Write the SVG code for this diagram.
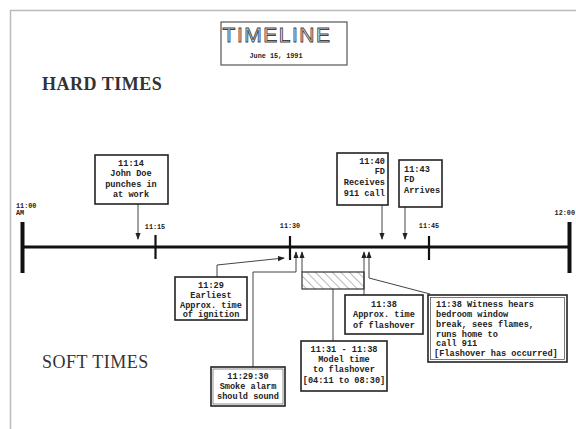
<svg xmlns="http://www.w3.org/2000/svg" width="576" height="429" viewBox="0 0 576 429">
<style>
.t{font-family:"Liberation Mono",monospace;font-size:8.6px;font-weight:bold;fill:#222}
.s{font-family:"Liberation Mono",monospace;font-size:6.8px;font-weight:bold;fill:#222}
.h{font-family:"Liberation Serif",serif;font-size:18px;fill:#333;letter-spacing:0.5px}
.box{fill:#fff;stroke:#222;stroke-width:1.6}
.ln{stroke:#444;stroke-width:1;fill:none}
.m{text-anchor:middle}
</style>
<defs>
<marker id="ar" viewBox="0 0 8 8" refX="7" refY="4" markerWidth="7" markerHeight="7" markerUnits="userSpaceOnUse" orient="auto">
<path d="M0,1 L8,4 L0,7 Z" fill="#222"/>
</marker>
<pattern id="hatch" width="6" height="6" patternUnits="userSpaceOnUse" patternTransform="rotate(-45)">
<line x1="0" y1="0" x2="0" y2="6" stroke="#777" stroke-width="1"/>
</pattern>
</defs>
<rect x="0" y="0" width="576" height="429" fill="#fff"/>
<path d="M10.5,429 V10.5 H576" fill="none" stroke="#bbb" stroke-width="1.5"/>

<g id="title">
<rect x="221" y="22" width="126" height="43" fill="#fff" stroke="#555" stroke-width="1.2"/>
<text x="277" y="42" text-anchor="middle" font-family="Liberation Sans,sans-serif" font-size="21" letter-spacing="1.5" fill="#f4f4f4" stroke="#444" stroke-width="0.9">TIMELINE</text>
<text x="276" y="58" class="s m" font-size="7.5">June 15, 1991</text>
</g>

<g id="hard-times"><text x="42" y="90" class="h" font-weight="bold">HARD  TIMES</text></g>
<g id="soft-times"><text x="42" y="368" class="h">SOFT  TIMES</text></g>

<g id="timeline">
<line x1="22" y1="247" x2="570" y2="247" stroke="#111" stroke-width="3"/>
<line x1="22.5" y1="222" x2="22.5" y2="273" stroke="#111" stroke-width="4"/>
<line x1="569.5" y1="222" x2="569.5" y2="273" stroke="#111" stroke-width="4"/>
<line x1="155.5" y1="235" x2="155.5" y2="259" stroke="#111" stroke-width="2.2"/>
<line x1="290" y1="236" x2="290" y2="260" stroke="#111" stroke-width="2.2"/>
<line x1="429" y1="236" x2="429" y2="260" stroke="#111" stroke-width="2.2"/>
<text x="16" y="208" class="s">11:00</text>
<text x="16" y="215" class="s">AM</text>
<text x="155" y="229" class="s m">11:15</text>
<text x="290" y="228" class="s m">11:30</text>
<text x="429" y="228" class="s m">11:45</text>
<text x="575" y="215" class="s" text-anchor="end">12:00</text>
</g>

<g id="connectors">
<line class="ln" x1="138" y1="204" x2="138" y2="239" marker-end="url(#ar)"/>
<line class="ln" x1="382" y1="205" x2="382" y2="239" marker-end="url(#ar)"/>
<line class="ln" x1="405" y1="207" x2="405" y2="239" marker-end="url(#ar)"/>
<polyline class="ln" points="217,277 217,265 284,258" marker-end="url(#ar)"/>
<polyline class="ln" points="253,367 253,272 296,272 296,252" marker-end="url(#ar)"/>
<line class="ln" x1="302" y1="272" x2="302" y2="252" marker-end="url(#ar)"/>
<line class="ln" x1="364" y1="295" x2="364" y2="252" marker-end="url(#ar)"/>
<polyline class="ln" points="430,294 369,278 369,252" marker-end="url(#ar)"/>
<line class="ln" x1="333" y1="289" x2="333" y2="341"/>
</g>

<g id="model-interval">
<rect x="302" y="272" width="62" height="17" fill="url(#hatch)" stroke="#333" stroke-width="1.2"/>
</g>

<g id="john-doe">
<rect class="box" x="95" y="155" width="73" height="49"/>
<text class="t m" x="131" y="166">11:14</text>
<text class="t m" x="131" y="176">John Doe</text>
<text class="t m" x="131" y="187">punches in</text>
<text class="t m" x="131" y="197">at work</text>
</g>

<g id="fd-receives">
<rect class="box" x="337" y="153" width="51" height="52"/>
<text class="t" x="385" y="164" text-anchor="end">11:40</text>
<text class="t" x="385" y="174" text-anchor="end">FD</text>
<text class="t" x="385" y="185" text-anchor="end">Receives</text>
<text class="t" x="385" y="196" text-anchor="end">911 call</text>
</g>

<g id="fd-arrives">
<rect class="box" x="399" y="160" width="43" height="47" stroke-width="2.2"/>
<text class="t" x="404" y="172">11:43</text>
<text class="t" x="404" y="182">FD</text>
<text class="t" x="404" y="193">Arrives</text>
</g>

<g id="ignition">
<rect class="box" x="175" y="277" width="72" height="43"/>
<text class="t m" x="211" y="288">11:29</text>
<text class="t m" x="211" y="298">Earliest</text>
<text class="t m" x="211" y="308">Approx. time</text>
<text class="t m" x="211" y="317">of ignition</text>
</g>

<g id="flashover">
<rect class="box" x="345" y="295" width="78" height="39" stroke-width="2"/>
<text class="t m" x="384" y="307">11:38</text>
<text class="t m" x="384" y="317">Approx. time</text>
<text class="t m" x="384" y="328">of flashover</text>
</g>

<g id="witness">
<rect class="box" x="428" y="295" width="139" height="67" stroke-width="2.2"/>
<rect x="430.5" y="297.5" width="134" height="62" fill="none" stroke="#444" stroke-width="0.7"/>
<text class="t" x="436" y="307">11:38  Witness hears</text>
<text class="t" x="436" y="317">bedroom window</text>
<text class="t" x="436" y="327">break, sees flames,</text>
<text class="t" x="436" y="337">runs home to</text>
<text class="t" x="436" y="346">call 911</text>
<text class="t" x="434" y="356">[Flashover has occurred]</text>
</g>

<g id="model-time">
<rect class="box" x="301" y="341" width="86" height="50" stroke-width="2"/>
<text class="t m" x="344" y="352">11:31 - 11:38</text>
<text class="t m" x="344" y="362">Model time</text>
<text class="t m" x="344" y="372">to flashover</text>
<text class="t m" x="344" y="383">[04:11 to 08:30]</text>
</g>

<g id="smoke-alarm">
<rect class="box" x="211" y="367" width="74" height="39" stroke-width="2.2"/>
<rect x="213" y="369" width="70" height="35" fill="none" stroke="#444" stroke-width="0.6"/>
<text class="t m" x="248" y="379">11:29:30</text>
<text class="t m" x="248" y="389">Smoke alarm</text>
<text class="t m" x="248" y="399">should sound</text>
</g>
</svg>
